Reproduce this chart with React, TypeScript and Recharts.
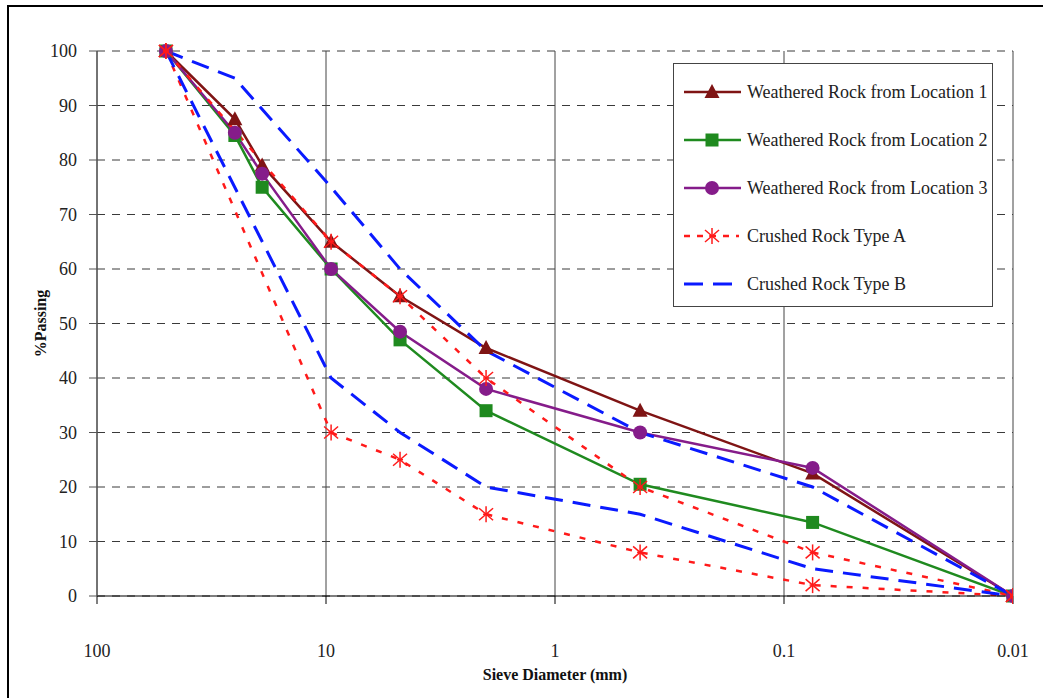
import React from 'react';
import { LineChart, Line, XAxis, YAxis, CartesianGrid, Legend, Label } from 'recharts';

// sieve sizes (mm) and % passing for the weathered rock samples
const sieveSizes = [50, 25, 19, 9.5, 4.75, 2, 0.425, 0.075, 0.01];
const location1 = [100, 87.5, 79, 65, 55, 45.5, 34, 22.5, 0];
const location2 = [100, 84.5, 75, 60, 47, 34, 20.5, 13.5, 0];
const location3 = [100, 85, 77.5, 60, 48.5, 38, 30, 23.5, 0];

// grading envelopes for crushed rock (upper / lower limits)
const typeASizes = [50, 9.5, 4.75, 2, 0.425, 0.075, 0.01];
const typeAUpper = [100, 65, 55, 40, 20, 8, 0];
const typeALower = [100, 30, 25, 15, 8, 2, 0];

const typeBUpperSizes = [50, 25, 9.5, 4.75, 2, 0.425, 0.075, 0.01];
const typeBUpper = [100, 95, 75, 60, 45, 30, 20, 0];
const typeBLowerSizes = [50, 9.5, 4.75, 2, 0.425, 0.075, 0.01];
const typeBLower = [100, 40, 30, 20, 15, 5, 0];

const xTicks = [100, 10, 1, 0.1, 0.01];
const yTicks = [0, 10, 20, 30, 40, 50, 60, 70, 80, 90, 100];

const legendNames = [
  'Weathered Rock from Location 1',
  'Weathered Rock from Location 2',
  'Weathered Rock from Location 3',
  'Crushed Rock Type A',
  'Crushed Rock Type B',
];

const FONT = '"Liberation Serif", "Times New Roman", serif';
const C1 = '#7f1414';
const C2 = '#1f8a1f';
const C3 = '#851c8a';
const CA = '#ff1a1a';
const CB = '#0a1aff';

const toRows = (sizes: number[], values: number[]) =>
  sizes.map((size, i) => ({ size, pct: values[i] }));

const Triangle = ({ cx, cy }: { cx: number; cy: number }) => (
  <path d={`M${cx},${cy - 8} L${cx + 7.5},${cy + 6} L${cx - 7.5},${cy + 6} Z`} fill={C1} />
);
const Square = ({ cx, cy }: { cx: number; cy: number }) => (
  <rect x={cx - 6.5} y={cy - 6.5} width={13} height={13} fill={C2} />
);
const Circle = ({ cx, cy }: { cx: number; cy: number }) => <circle cx={cx} cy={cy} r={7} fill={C3} />;
const Asterisk = ({ cx, cy }: { cx: number; cy: number }) => (
  <g stroke={CA} strokeWidth={1.5}>
    <line x1={cx} y1={cy - 8} x2={cx} y2={cy + 8} />
    <line x1={cx - 7} y1={cy - 6} x2={cx + 7} y2={cy + 6} />
    <line x1={cx + 7} y1={cy - 6} x2={cx - 7} y2={cy + 6} />
    <line x1={cx - 3} y1={cy} x2={cx + 3} y2={cy} />
  </g>
);

const dotWith = (Shape: React.FC<{ cx: number; cy: number }>, tag: string) => (p: any) => (
  <Shape key={`${tag}-${p.index}`} cx={p.cx} cy={p.cy} />
);

const LegendBox = () => {
  const rowY = (i: number) => 29 + i * 48;
  return (
    <svg width={320} height={244} style={{ display: 'block' }}>
      <rect x={0.5} y={0.5} width={319} height={243} fill="#fff" stroke="#444" />
      <line x1={11} x2={68} y1={rowY(0)} y2={rowY(0)} stroke={C1} strokeWidth={2.5} />
      <Triangle cx={39} cy={rowY(0)} />
      <line x1={11} x2={68} y1={rowY(1)} y2={rowY(1)} stroke={C2} strokeWidth={2.5} />
      <Square cx={39} cy={rowY(1)} />
      <line x1={11} x2={68} y1={rowY(2)} y2={rowY(2)} stroke={C3} strokeWidth={2.5} />
      <Circle cx={39} cy={rowY(2)} />
      <line x1={11} x2={66} y1={rowY(3)} y2={rowY(3)} stroke={CA} strokeWidth={2.5} strokeDasharray="6 7" />
      <Asterisk cx={39} cy={rowY(3)} />
      <line x1={11} x2={60} y1={rowY(4)} y2={rowY(4)} stroke={CB} strokeWidth={3} strokeDasharray="19 10" />
      {legendNames.map((name, i) => (
        <text key={name} x={74} y={rowY(i)} dy="0.35em" fontFamily={FONT} fontSize={18} fill="#222">
          {name}
        </text>
      ))}
    </svg>
  );
};

const YTitle = (props: any) => {
  const { x, y, height } = props.viewBox;
  const cx = x + 3;
  const cy = y + height / 2;
  return (
    <text
      x={cx}
      y={cy}
      transform={`rotate(-90, ${cx}, ${cy})`}
      textAnchor="middle"
      dy="0.35em"
      fontFamily={FONT}
      fontSize={16}
      fontWeight="bold"
      fill="#111"
    >
      %Passing
    </text>
  );
};

export default function App() {
  const tickStyle = { fontFamily: FONT, fontSize: 18, fill: '#222' };
  return (
    <div style={{ position: 'absolute', left: 0, top: 0, width: 1043, height: 698, overflow: 'hidden', background: '#fff' }}>
      <div
        style={{
          position: 'absolute',
          left: 7,
          top: 5,
          width: 1100,
          height: 800,
          borderLeft: '2px solid #000',
          borderTop: '2px solid #000',
        }}
      />
      <div style={{ position: 'absolute', left: 0, top: 0 }}>
        <LineChart width={1043} height={698} margin={{ top: 51, right: 30, bottom: 12, left: 37 }}>
          <CartesianGrid horizontal vertical={false} strokeDasharray="8 7" stroke="#3a3a3a" />
          <CartesianGrid horizontal={false} vertical stroke="#444" />
          <XAxis
            dataKey="size"
            type="number"
            scale="log"
            domain={[0.01, 100]}
            reversed
            allowDataOverflow
            ticks={xTicks}
            interval={0}
            tickFormatter={(v: number) => String(v)}
            height={90}
            tickSize={8}
            tickMargin={40}
            tick={tickStyle}
            axisLine={{ stroke: '#000', strokeWidth: 1.2 }}
            tickLine={{ stroke: '#000' }}
          >
            <Label
              value="Sieve Diameter (mm)"
              position="insideBottom"
              offset={6}
              style={{ fontFamily: FONT, fontSize: 16, fontWeight: 'bold', fill: '#111' }}
            />
          </XAxis>
          <YAxis
            type="number"
            domain={[0, 100]}
            ticks={yTicks}
            interval={0}
            width={60}
            tickSize={8}
            tickMargin={12}
            tick={tickStyle}
            axisLine={{ stroke: '#555', strokeWidth: 1.2 }}
            tickLine={{ stroke: '#555' }}
          >
            <Label content={YTitle} />
          </YAxis>
          <Legend
            layout="vertical"
            align="center"
            verticalAlign="middle"
            wrapperStyle={{ left: 673, top: 63, width: 320, height: 244 }}
            content={() => <LegendBox />}
          />
          <Line
            data={toRows(sieveSizes, location1)}
            dataKey="pct"
            name={legendNames[0]}
            stroke={C1}
            strokeWidth={2.5}
            dot={dotWith(Triangle, 'l1')}
            isAnimationActive={false}
          />
          <Line
            data={toRows(sieveSizes, location2)}
            dataKey="pct"
            name={legendNames[1]}
            stroke={C2}
            strokeWidth={2.5}
            dot={dotWith(Square, 'l2')}
            isAnimationActive={false}
          />
          <Line
            data={toRows(sieveSizes, location3)}
            dataKey="pct"
            name={legendNames[2]}
            stroke={C3}
            strokeWidth={2.5}
            dot={dotWith(Circle, 'l3')}
            isAnimationActive={false}
          />
          <Line
            data={toRows(typeASizes, typeAUpper)}
            dataKey="pct"
            name={legendNames[3]}
            stroke={CA}
            strokeWidth={2.5}
            strokeDasharray="6 10"
            dot={dotWith(Asterisk, 'au')}
            isAnimationActive={false}
          />
          <Line
            data={toRows(typeASizes, typeALower)}
            dataKey="pct"
            name={`${legendNames[3]} (lower)`}
            stroke={CA}
            strokeWidth={2.5}
            strokeDasharray="6 10"
            dot={dotWith(Asterisk, 'al')}
            isAnimationActive={false}
          />
          <Line
            data={toRows(typeBUpperSizes, typeBUpper)}
            dataKey="pct"
            name={legendNames[4]}
            stroke={CB}
            strokeWidth={3}
            strokeDasharray="18 10"
            dot={false}
            isAnimationActive={false}
          />
          <Line
            data={toRows(typeBLowerSizes, typeBLower)}
            dataKey="pct"
            name={`${legendNames[4]} (lower)`}
            stroke={CB}
            strokeWidth={3}
            strokeDasharray="18 10"
            dot={false}
            isAnimationActive={false}
          />
        </LineChart>
      </div>
    </div>
  );
}
